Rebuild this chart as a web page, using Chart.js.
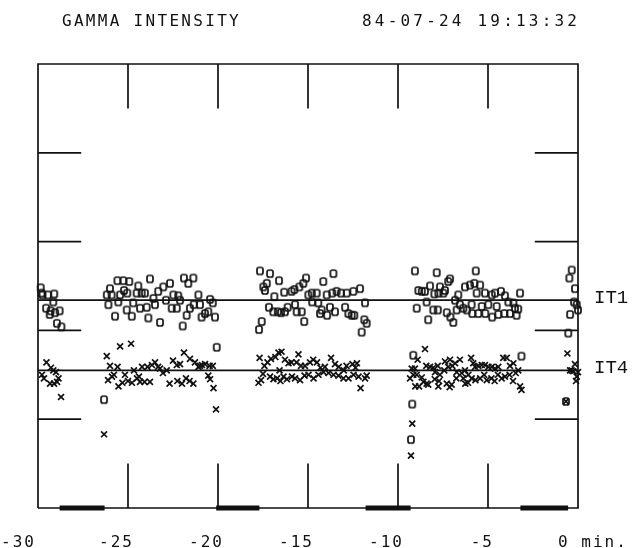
<!DOCTYPE html>
<html>
<head>
<meta charset="utf-8">
<script src="https://cdn.jsdelivr.net/npm/chart.js@4.4.1/dist/chart.umd.min.js"></script>
<style>
  html, body { margin: 0; padding: 0; background: #fff; }
  #wrap { width: 638px; height: 548px; }
</style>
</head>
<body>
<div id="wrap"><canvas id="gammaChart" width="638" height="548"></canvas></div>
<script>
// header texts
const titleText = 'GAMMA INTENSITY';
const stampText = '84-07-24 19:13:32';

// time axis, minutes before the time stamp
const xTicks = [-25, -20, -15, -10, -5];
const xLabelVals = [-30, -25, -20, -15, -10, -5];
const xLabels = ['-30', '-25', '-20', '-15', '-10', '-5'];
const xEndLabel = '0 min.';
const yTicks = [1, 2, 3, 4];

// reference levels
const refNames = ['IT1', 'IT4'];
const refLevels = [2.34, 1.55];

// data gaps marked on the bottom edge
const gapStart = [-28.8, -20.1, -11.8, -3.2];
const gapEnd = [-26.3, -17.7, -9.3, -0.55];

// IT1 samples (o), [minute, level]
const it1Pts = [
    [-29.85, 2.48], [-29.8, 2.42], [-29.75, 2.40], [-29.55, 2.25], [-29.45, 2.40], [-29.35, 2.18],
    [-29.3, 2.22], [-29.15, 2.32], [-29.1, 2.41], [-29.05, 2.20], [-28.95, 2.08], [-28.8, 2.22], [-28.7, 2.04],

    [-26.33, 1.22], [-26.18, 2.40], [-26.09, 2.29], [-26.0, 2.47], [-25.91, 2.40], [-25.72, 2.16],
    [-25.59, 2.56], [-25.54, 2.32], [-25.44, 2.40], [-25.26, 2.56], [-25.22, 2.45], [-25.07, 2.23],
    [-25.04, 2.42], [-24.93, 2.55], [-24.79, 2.16], [-24.71, 2.31], [-24.52, 2.42], [-24.43, 2.50],
    [-24.33, 2.25], [-24.24, 2.42], [-24.06, 2.42], [-23.96, 2.26], [-23.87, 2.14], [-23.78, 2.58],
    [-23.59, 2.36], [-23.5, 2.29], [-23.32, 2.44], [-23.22, 2.09], [-23.04, 2.49], [-22.89, 2.34],
    [-22.67, 2.53], [-22.57, 2.25], [-22.48, 2.40], [-22.29, 2.25], [-22.21, 2.39], [-22.11, 2.34],
    [-21.96, 2.05], [-21.89, 2.59], [-21.74, 2.17], [-21.65, 2.53], [-21.56, 2.25], [-21.37, 2.59],
    [-21.35, 2.29], [-21.09, 2.40], [-21.0, 2.29], [-20.91, 2.15], [-20.72, 2.19], [-20.54, 2.21],
    [-20.44, 2.35], [-20.29, 2.31], [-20.17, 2.15], [-20.07, 1.81],

    [-17.72, 2.01], [-17.67, 2.67], [-17.57, 2.10], [-17.48, 2.49], [-17.39, 2.45], [-17.29, 2.53],
    [-17.17, 2.26], [-17.11, 2.64], [-16.93, 2.21], [-16.87, 2.38], [-16.68, 2.21], [-16.61, 2.56],
    [-16.5, 2.20], [-16.32, 2.43], [-16.28, 2.21], [-16.13, 2.26], [-15.91, 2.44], [-15.76, 2.46],
    [-15.72, 2.29], [-15.63, 2.21], [-15.48, 2.49], [-15.35, 2.21], [-15.26, 2.53], [-15.21, 2.10],
    [-15.11, 2.59], [-14.98, 2.40], [-14.79, 2.42], [-14.77, 2.32], [-14.52, 2.42], [-14.43, 2.31],
    [-14.33, 2.19], [-14.24, 2.23], [-14.15, 2.55], [-13.96, 2.40], [-13.94, 2.17], [-13.78, 2.26],
    [-13.65, 2.42], [-13.59, 2.64], [-13.5, 2.21], [-13.41, 2.44], [-13.17, 2.42], [-12.94, 2.26],
    [-12.85, 2.42], [-12.76, 2.19], [-12.57, 2.17], [-12.48, 2.44], [-12.43, 2.17], [-12.11, 2.47],
    [-12.02, 1.98], [-11.87, 2.12], [-11.83, 2.31], [-11.74, 2.08],

    [-9.28, 0.77], [-9.21, 1.17], [-9.15, 1.72], [-9.06, 2.67], [-8.96, 2.25], [-8.87, 2.45],
    [-8.68, 2.44], [-8.5, 2.44], [-8.41, 2.32], [-8.32, 2.12], [-8.22, 2.50], [-8.04, 2.23],
    [-7.98, 2.41], [-7.85, 2.65], [-7.79, 2.23], [-7.76, 2.42], [-7.67, 2.49], [-7.48, 2.42],
    [-7.39, 2.45], [-7.29, 2.20], [-7.21, 2.55], [-7.11, 2.58], [-7.09, 2.15], [-6.93, 2.09],
    [-6.83, 2.34], [-6.74, 2.23], [-6.65, 2.40], [-6.56, 2.29], [-6.37, 2.25], [-6.28, 2.49],
    [-6.18, 2.23], [-6.0, 2.51], [-5.91, 2.29], [-5.87, 2.19], [-5.76, 2.53], [-5.68, 2.67],
    [-5.63, 2.42], [-5.54, 2.19], [-5.44, 2.51], [-5.35, 2.27], [-5.17, 2.42], [-5.15, 2.19],
    [-4.98, 2.29], [-4.79, 2.40], [-4.77, 2.15], [-4.61, 2.42], [-4.52, 2.27], [-4.43, 2.18],
    [-4.28, 2.44], [-4.09, 2.19], [-4.06, 2.39], [-3.87, 2.32], [-3.78, 2.19], [-3.59, 2.31],
    [-3.5, 2.25], [-3.41, 2.17], [-3.32, 2.24], [-3.22, 2.42], [-3.14, 1.71],

    [-0.67, 1.20], [-0.54, 1.97], [-0.48, 2.59], [-0.44, 2.18], [-0.35, 2.68], [-0.22, 2.32],
    [-0.17, 2.47], [-0.07, 2.29], [0, 2.23]
];

// IT4 samples (x), [minute, level]
const it4Pts = [
    [-29.78, 1.50], [-29.67, 1.46], [-29.53, 1.64], [-29.33, 1.40], [-29.28, 1.58], [-29.15, 1.55],
    [-29.11, 1.40], [-29.0, 1.53], [-28.94, 1.42], [-28.86, 1.46], [-28.72, 1.25],

    [-26.33, 0.83], [-26.18, 1.71], [-26.11, 1.44], [-26.0, 1.60], [-25.89, 1.48], [-25.78, 1.50],
    [-25.58, 1.59], [-25.53, 1.37], [-25.44, 1.82], [-25.31, 1.41], [-25.17, 1.50], [-25.0, 1.43],
    [-24.83, 1.85], [-24.78, 1.41], [-24.67, 1.55], [-24.5, 1.46], [-24.39, 1.48], [-24.33, 1.42],
    [-24.22, 1.59], [-24.08, 1.42], [-23.92, 1.59], [-23.78, 1.42], [-23.67, 1.61], [-23.5, 1.64],
    [-23.33, 1.59], [-23.22, 1.57], [-23.06, 1.52], [-22.85, 1.55], [-22.69, 1.40], [-22.5, 1.66],
    [-22.29, 1.61], [-22.26, 1.43], [-22.11, 1.62], [-22.0, 1.40], [-21.89, 1.75], [-21.78, 1.46],
    [-21.58, 1.43], [-21.56, 1.68], [-21.37, 1.40], [-21.28, 1.64], [-21.09, 1.59], [-21.0, 1.60],
    [-20.89, 1.61], [-20.72, 1.62], [-20.54, 1.49], [-20.47, 1.60], [-20.44, 1.45], [-20.29, 1.60],
    [-20.25, 1.35], [-20.11, 1.11],

    [-17.75, 1.41], [-17.69, 1.69], [-17.61, 1.44], [-17.5, 1.51], [-17.42, 1.60], [-17.25, 1.64],
    [-17.11, 1.48], [-17.06, 1.68], [-16.92, 1.45], [-16.81, 1.70], [-16.72, 1.46], [-16.64, 1.75],
    [-16.58, 1.55], [-16.53, 1.43], [-16.47, 1.76], [-16.36, 1.48], [-16.28, 1.67], [-16.17, 1.45],
    [-16.08, 1.63], [-15.92, 1.64], [-15.89, 1.48], [-15.72, 1.46], [-15.64, 1.64], [-15.53, 1.73],
    [-15.44, 1.44], [-15.39, 1.60], [-15.19, 1.49], [-15.17, 1.60], [-14.97, 1.50], [-14.89, 1.64],
    [-14.69, 1.46], [-14.71, 1.67], [-14.5, 1.64], [-14.42, 1.50], [-14.31, 1.58], [-14.14, 1.53],
    [-14.06, 1.59], [-13.86, 1.52], [-13.72, 1.69], [-13.58, 1.50], [-13.5, 1.62], [-13.31, 1.49],
    [-13.29, 1.59], [-13.03, 1.46], [-13.01, 1.55], [-12.86, 1.60], [-12.75, 1.46], [-12.53, 1.62],
    [-12.47, 1.50], [-12.36, 1.58], [-12.28, 1.63], [-12.19, 1.48], [-12.08, 1.35], [-11.83, 1.46],
    [-11.74, 1.49],

    [-9.33, 1.46], [-9.28, 0.59], [-9.24, 1.57], [-9.21, 0.95], [-9.15, 1.50], [-9.06, 1.57],
    [-9.04, 1.37], [-8.96, 1.50], [-8.91, 1.67], [-8.83, 1.37], [-8.68, 1.47], [-8.59, 1.42],
    [-8.5, 1.79], [-8.43, 1.60], [-8.41, 1.40], [-8.32, 1.39], [-8.22, 1.59], [-8.04, 1.58],
    [-7.96, 1.45], [-7.94, 1.53], [-7.79, 1.60], [-7.76, 1.37], [-7.72, 1.43], [-7.67, 1.50],
    [-7.43, 1.55], [-7.39, 1.65], [-7.29, 1.40], [-7.21, 1.59], [-7.13, 1.36], [-7.11, 1.67],
    [-7.02, 1.39], [-6.98, 1.60], [-6.83, 1.63], [-6.76, 1.46], [-6.74, 1.53], [-6.56, 1.67],
    [-6.46, 1.52], [-6.37, 1.46], [-6.28, 1.55], [-6.26, 1.40], [-6.11, 1.41], [-6.09, 1.50],
    [-5.94, 1.69], [-5.91, 1.46], [-5.82, 1.63], [-5.72, 1.59], [-5.70, 1.44], [-5.54, 1.60],
    [-5.44, 1.46], [-5.35, 1.61], [-5.21, 1.50], [-5.17, 1.61], [-5.07, 1.44], [-4.98, 1.59],
    [-4.81, 1.46], [-4.79, 1.59], [-4.63, 1.43], [-4.61, 1.57], [-4.45, 1.50], [-4.43, 1.59],
    [-4.24, 1.46], [-4.15, 1.69], [-4.06, 1.48], [-3.96, 1.69], [-3.80, 1.50], [-3.78, 1.60],
    [-3.61, 1.43], [-3.59, 1.63], [-3.46, 1.52], [-3.32, 1.55], [-3.22, 1.37], [-3.14, 1.33],

    [-0.67, 1.20], [-0.59, 1.74], [-0.44, 1.55], [-0.35, 1.55], [-0.26, 1.54], [-0.17, 1.62],
    [-0.11, 1.43], [-0.07, 1.48], [0, 1.53]
];

const ink = '#111111';
const xMin = -30, xMax = 0, yMin = 0, yMax = 5;
const tickLenY = 0.5;   // level units
const tickLenX = 2.4;   // minutes

// "o" marker like the plotter letter
const oMark = document.createElement('canvas');
oMark.width = 10;
oMark.height = 11;
const oc = oMark.getContext('2d');
oc.strokeStyle = ink;
oc.lineWidth = 1.7;
oc.beginPath();
oc.roundRect(2, 2, 6, 7, 2);
oc.stroke();

function toXY(pts) {
    return pts.map(p => ({ x: p[0], y: p[1] }));
}

// frame and tick marks as broken line paths
const frame = [
    { x: xMin, y: yMin }, { x: xMin, y: yMax }, { x: xMax, y: yMax },
    { x: xMax, y: yMin }, { x: xMin, y: yMin }
];
const tickPath = [];
xTicks.forEach(v => {
    tickPath.push({ x: v, y: yMax }, { x: v, y: yMax - tickLenY }, { x: v, y: null });
    tickPath.push({ x: v, y: yMin }, { x: v, y: yMin + tickLenY }, { x: v, y: null });
});
yTicks.forEach(v => {
    tickPath.push({ x: xMin, y: v }, { x: xMin + tickLenX, y: v }, { x: xMin, y: null });
    tickPath.push({ x: xMax - tickLenX, y: v }, { x: xMax, y: v }, { x: xMax, y: null });
});
const refPath = [];
refLevels.forEach(v => {
    refPath.push({ x: xMin, y: v }, { x: xMax, y: v }, { x: xMax, y: null });
});
const gapPath = [];
gapStart.forEach((s, i) => {
    gapPath.push({ x: s, y: yMin }, { x: gapEnd[i], y: yMin }, { x: gapEnd[i], y: null });
});

const textPlugin = {
    id: 'plotText',
    afterDraw(chart) {
        const { ctx, scales: { x, y } } = chart;
        ctx.save();
        ctx.fillStyle = ink;
        ctx.textBaseline = 'alphabetic';
        ctx.font = '16px "DejaVu Sans Mono"';

        // header
        ctx.textAlign = 'left';
        ctx.letterSpacing = '2.3px';
        ctx.fillText(titleText, 62, 26);
        ctx.letterSpacing = '3.2px';
        ctx.fillText(stampText, 362, 26);

        // time labels
        ctx.letterSpacing = '2px';
        ctx.textAlign = 'right';
        xLabelVals.forEach((v, i) => {
            const shift = v === xMin ? -2 : 6;
            ctx.fillText(xLabels[i], x.getPixelForValue(v) + shift, 547);
        });
        ctx.textAlign = 'left';
        ctx.fillText(xEndLabel, x.getPixelForValue(xMax) - 20, 547);

        // level names
        ctx.letterSpacing = '0px';
        ctx.font = '19px "Liberation Mono"';
        refNames.forEach((n, i) => {
            ctx.fillText(n, x.right + 16, y.getPixelForValue(refLevels[i]) + 3);
        });
        ctx.restore();
    }
};

new Chart(document.getElementById('gammaChart'), {
    type: 'scatter',
    data: {
        datasets: [
            {
                label: 'IT1',
                data: toXY(it1Pts),
                pointStyle: oMark,
                clip: false
            },
            {
                label: 'IT4',
                data: toXY(it4Pts),
                pointStyle: 'crossRot',
                pointRadius: 4.2,
                borderColor: ink,
                borderWidth: 1.7,
                clip: false
            },
            {
                data: refPath,
                showLine: true,
                pointRadius: 0,
                borderColor: ink,
                borderWidth: 1.7,
                spanGaps: false,
                clip: false
            },
            {
                data: tickPath,
                showLine: true,
                pointRadius: 0,
                borderColor: ink,
                borderWidth: 1.7,
                spanGaps: false,
                clip: false
            },
            {
                data: gapPath,
                showLine: true,
                pointRadius: 0,
                borderColor: ink,
                borderWidth: 5,
                borderCapStyle: 'butt',
                spanGaps: false,
                clip: false
            },
            {
                data: frame,
                showLine: true,
                pointRadius: 0,
                borderColor: ink,
                borderWidth: 1.7,
                clip: false
            }
        ]
    },
    options: {
        responsive: false,
        animation: false,
        layout: { padding: { left: 38, right: 60, top: 64, bottom: 40 } },
        plugins: {
            legend: { display: false },
            tooltip: { enabled: false }
        },
        scales: {
            x: { type: 'linear', min: xMin, max: xMax, display: false },
            y: { type: 'linear', min: yMin, max: yMax, display: false }
        }
    },
    plugins: [textPlugin]
});
</script>
</body>
</html>
